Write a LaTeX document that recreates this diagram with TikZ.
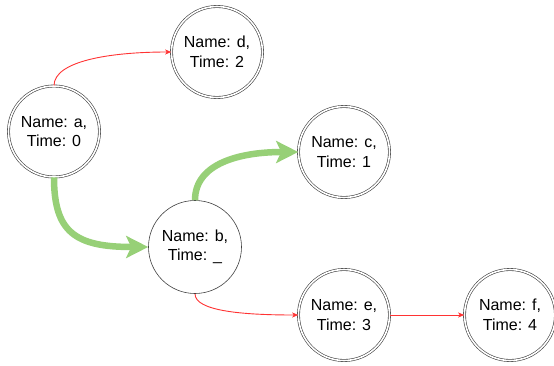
\documentclass[tikz,border=0pt]{standalone}
\usepackage{fontspec}
\setmainfont{Liberation Sans}
\usetikzlibrary{arrows.meta}
\definecolor{pathgreen}{HTML}{97D077}
\definecolor{edgered}{HTML}{FF3333}

\begin{document}
\begin{tikzpicture}[x=1pt, y=1pt,
    state/.style={circle, draw=black!75, line width=0.6pt, minimum size=91pt, inner sep=0pt, align=center, font=\fontsize{16}{19.5}\selectfont},
    visited/.style={state, double, double distance=1.6pt},
    hop/.style={-{Stealth[length=6pt,width=5pt,inset=1.5pt]}, edgered, line width=0.9pt},
    route/.style={-{Stealth[length=22pt,width=22pt,inset=5pt]}, pathgreen, line width=6.5pt}]
  \useasboundingbox (0,0) rectangle (554,365);
  \node[visited] (a) at (54,233.5) {Name: a,\\Time: 0};
  \node[visited] (d) at (217,313) {Name: d,\\Time: 2};
  \node[state, minimum size=93pt] (b) at (195,118) {Name: b,\\Time: \_};
  \node[visited] (c) at (344,213) {Name: c,\\Time: 1};
  \node[visited] (e) at (344,50) {Name: e,\\Time: 3};
  \node[visited] (f) at (510,50) {Name: f,\\Time: 4};
  \draw[hop] (a.north) .. controls +(0,25) and +(-60,0) .. (d.west);
  \draw[route] (a.south) .. controls +(0,-55) and +(-73,0) .. (b.west);
  \draw[route] (b.north) .. controls +(0,37) and +(-58,0) .. (c.west);
  \draw[hop] (b.south) .. controls +(0,-17) and +(-57,0) .. (e.west);
  \draw[hop] (e) -- (f);
\end{tikzpicture}
\end{document}
